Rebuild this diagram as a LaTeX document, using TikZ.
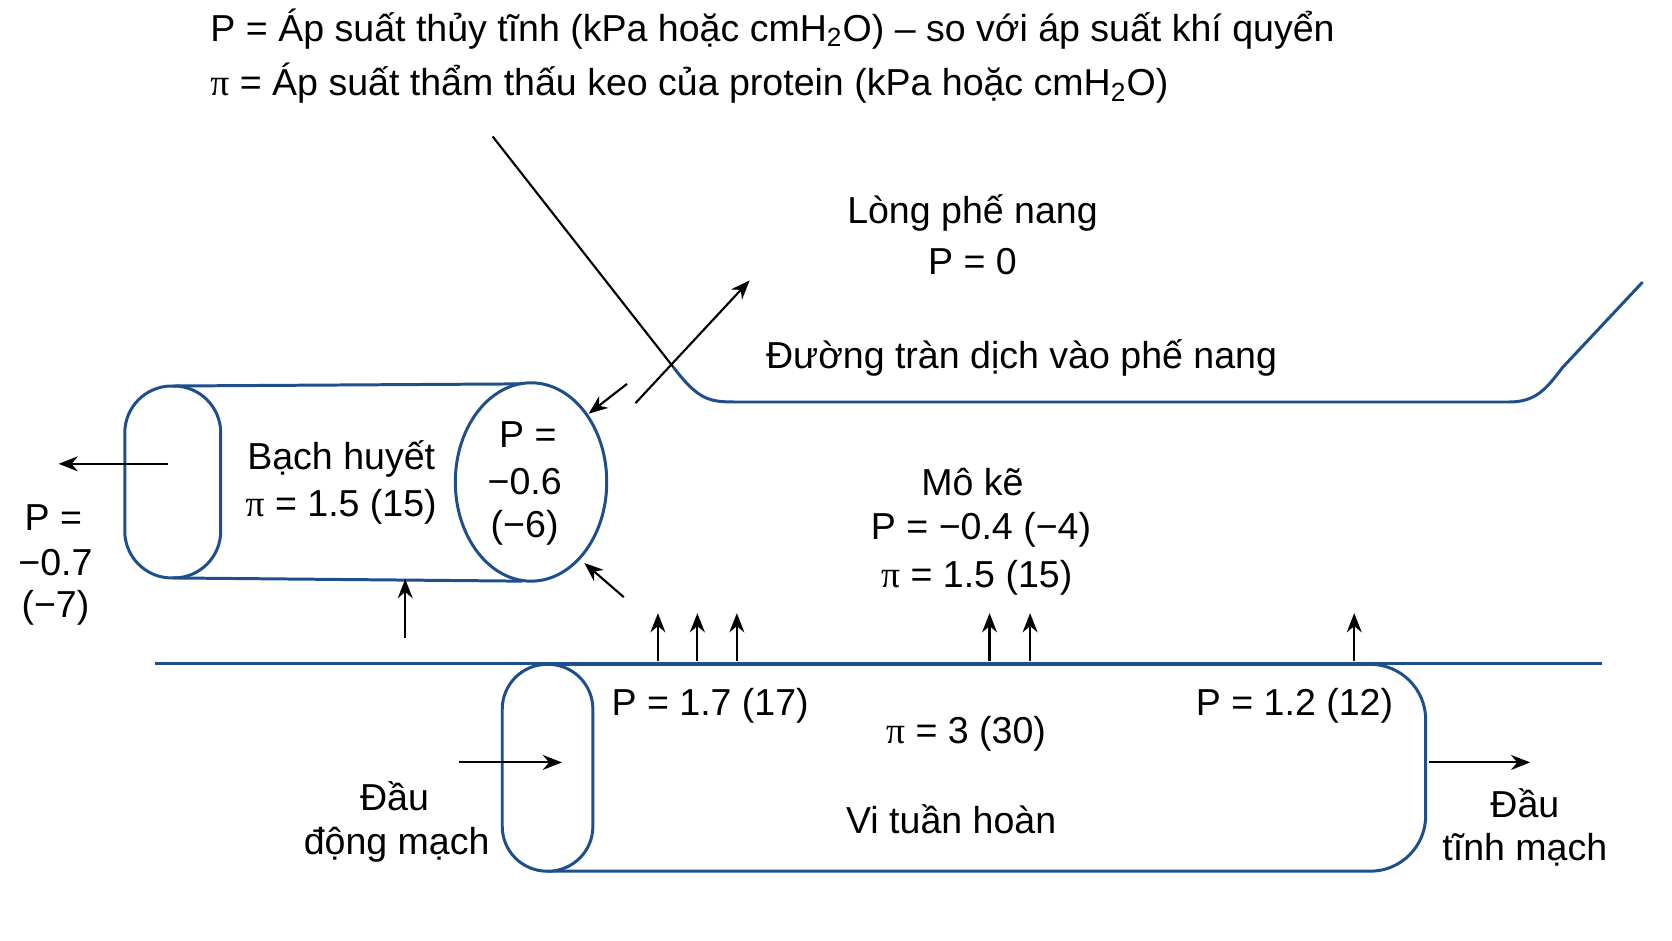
\documentclass[tikz,border=0pt]{standalone}
\usepackage{fontspec}
\setmainfont{Liberation Sans}
\newfontfamily\pifont{Liberation Serif}
\newcommand{\mypi}{{\pifont π}}
\usetikzlibrary{arrows.meta}
\definecolor{vblue}{HTML}{1F4E8C}
\begin{document}
\begin{tikzpicture}[x=0.5pt,y=-0.5pt,
  every node/.style={font=\fontsize{17.6}{20}\selectfont,inner sep=0pt},
  wall/.style={draw=vblue,line width=1.4pt},
  arr/.style={line width=1pt,-{Stealth[length=9pt,width=7pt]}}]
\useasboundingbox (0,0) rectangle (1568,882);
% legend
\node[anchor=west] (l1) at (197,27) {P = Áp suất thủy tĩnh (kPa hoặc cmH\textsubscript{2}O) – so với áp suất khí quyển};
\node[anchor=west] (l2) at (197,78) {\mypi{} = Áp suất thẩm thấu keo của protein (kPa hoặc cmH\textsubscript{2}O)};
% alveolus line
\coordinate (a0) at (462,128); \coordinate (a1) at (632,345);
\draw[line width=1pt] (a0) -- (a1);
\draw[wall,line cap=round] (a1) .. controls (655,375) and (665,377) .. (690,377) -- (1415,377) .. controls (1440,377) and (1450,365) .. (1465,345) -- (1540,265);
\node (alv) at (912,200) {Lòng phế nang};
\node (alvp) at (912,245) {P = 0};
\node (flood) at (958,336) {Đường tràn dịch vào phế nang};
% lymph
\draw[wall] (162,362) -- (490,360);
\draw[wall] (162,542) -- (490,545);
\draw[wall,rounded corners=22pt] (117,362) rectangle (207,542);
\draw[wall,fill=white] (498,452) ellipse[x radius=71,y radius=93];
\node (ly1) at (320,430) {Bạch huyết};
\node (ly2) at (320,475) {\mypi{} = 1.5 (15)};
\node (lp1) at (495,408) {P =};
\node (lp2) at (492,452) {−0.6};
\node (lp3) at (492,495) {(−6)};
\node (op1) at (50,485) {P =};
\node (op2) at (52,528) {−0.7};
\node (op3) at (52,570) {(−7)};
\coordinate (o0) at (158,435); \coordinate (o1) at (55,435);
\draw[arr] (o0) -- (o1);
\coordinate (u0) at (380,598); \coordinate (u1) at (380,543);
\draw[arr] (u0) -- (u1);
\coordinate (d0) at (585,560); \coordinate (d1) at (548,528);
\draw[arr] (d0) -- (d1);
\coordinate (e0) at (588,360); \coordinate (e1) at (552,388);
\draw[arr] (e0) -- (e1);
\coordinate (f0) at (596,378); \coordinate (f1) at (703,263);
\draw[arr] (f0) -- (f1);
% interstitium
\node (mk) at (912,452) {Mô kẽ};
\node (mkp) at (920,497) {P = −0.4 (−4)};
\node (mkpi) at (916,542) {\mypi{} = 1.5 (15)};
\draw[wall] (145,622) -- (1502,622);
\foreach \x in {617,654,691,928,966,1270}{
  \coordinate (s\x) at (\x,620); \coordinate (t\x) at (\x,575);
  \draw[arr] (s\x) -- (t\x);}
% microcirculation
\draw[wall,rounded corners=26pt] (513,623) -- (1337,623) -- (1337,817) -- (513,817);
\draw[wall,fill=white,rounded corners=21pt] (471,623) rectangle (556,817);
\node (m1) at (666,662) {P = 1.7 (17)};
\node (m2) at (906,688) {\mypi{} = 3 (30)};
\node (m3) at (1214,662) {P = 1.2 (12)};
\node (m4) at (892,768) {Vi tuần hoàn};
\node (da) at (370,747) {Đầu};
\node (da2) at (372,792) {động mạch};
\node (dt) at (1430,753) {Đầu};
\node (dt2) at (1430,797) {tĩnh mạch};
\coordinate (i0) at (430,715); \coordinate (i1) at (527,715);
\draw[arr] (i0) -- (i1);
\coordinate (j0) at (1340,715); \coordinate (j1) at (1435,715);
\draw[arr] (j0) -- (j1);
\end{tikzpicture}
\end{document}
